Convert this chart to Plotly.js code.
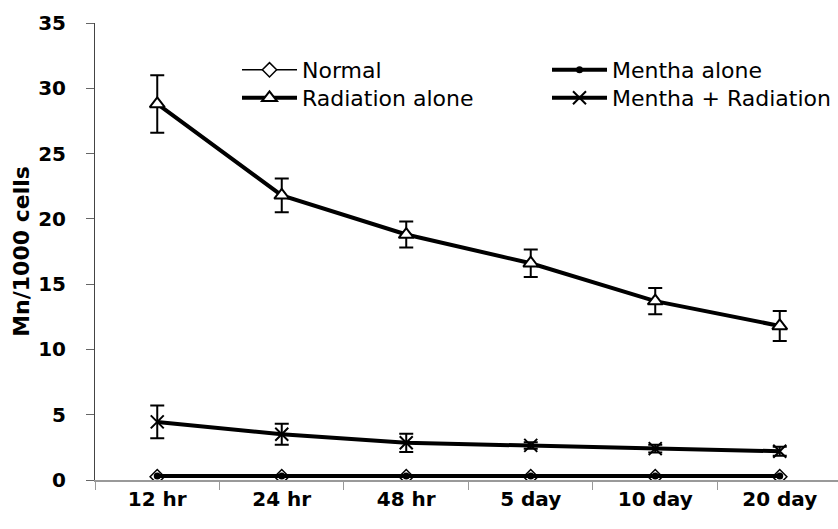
<!DOCTYPE html>
<html>
<head>
<meta charset="utf-8">
<script src="https://cdn.plot.ly/plotly-3.0.1.min.js"></script>
<style>
html,body{margin:0;padding:0;background:#fff;}
#chart{width:838px;height:529px;}
</style>
</head>
<body>
<div id="chart"></div>
<script>
const categories = ["12 hr", "24 hr", "48 hr", "5 day", "10 day", "20 day"];
const normal = [0.25, 0.25, 0.25, 0.25, 0.25, 0.25];
const menthaAlone = [0.3, 0.3, 0.3, 0.3, 0.3, 0.3];
const radiationAlone = [28.8, 21.8, 18.8, 16.6, 13.7, 11.8];
const radiationErr = [2.2, 1.3, 1.0, 1.05, 1.0, 1.15];
const menthaRadiation = [4.45, 3.5, 2.85, 2.65, 2.4, 2.2];
const menthaRadiationErr = [1.25, 0.8, 0.7, 0.25, 0.3, 0.35];
const yTicks = [0, 5, 10, 15, 20, 25, 30, 35];

const FONT = "DejaVu Sans, Arial, sans-serif";

const traces = [
  {
    name: "Normal", x: categories, y: normal, type: "scatter", mode: "lines+markers",
    legend: "legend",
    line: {color: "#000", width: 1.5},
    marker: {symbol: "diamond", size: 11, color: "#fff", line: {color: "#000", width: 1.5}}
  },
  {
    name: "Mentha alone", x: categories, y: menthaAlone, type: "scatter", mode: "lines+markers",
    legend: "legend2",
    line: {color: "#000", width: 4},
    marker: {symbol: "circle", size: 7, color: "#000"}
  },
  {
    name: "Radiation alone", x: categories, y: radiationAlone, type: "scatter", mode: "lines+markers",
    legend: "legend3",
    line: {color: "#000", width: 4},
    marker: {symbol: "triangle-up", size: 13, color: "#fff", line: {color: "#000", width: 2}},
    error_y: {type: "data", array: radiationErr, visible: true, color: "#000", thickness: 2, width: 7}
  },
  {
    name: "Mentha + Radiation", x: categories, y: menthaRadiation, type: "scatter", mode: "lines+markers",
    legend: "legend4",
    line: {color: "#000", width: 4},
    marker: {symbol: "x-thin", size: 13, color: "#000", line: {color: "#000", width: 2}},
    error_y: {type: "data", array: menthaRadiationErr, visible: true, color: "#000", thickness: 2, width: 7}
  }
];

const plotL = 95, plotR = 838, plotT = 23, plotB = 480;
const px2x = p => (p - plotL) / (plotR - plotL);
const py2y = p => (plotB - p) / (plotB - plotT);

const legendCommon = {
  orientation: "v", xanchor: "left", yanchor: "top",
  itemwidth: 55, tracegroupgap: 0, traceorder: "normal",
  bgcolor: "rgba(0,0,0,0)", borderwidth: 0,
  font: {family: FONT, size: 22, color: "#000"}
};

const layout = {
  width: 838, height: 529,
  margin: {l: plotL, r: 838 - plotR, t: plotT, b: 529 - plotB, pad: 0},
  paper_bgcolor: "#fff", plot_bgcolor: "#fff",
  font: {family: FONT, color: "#000", size: 20},
  showlegend: true,
  legend: Object.assign({}, legendCommon, {x: px2x(237), y: py2y(49)}),
  legend2: Object.assign({}, legendCommon, {x: px2x(547), y: py2y(49)}),
  legend3: Object.assign({}, legendCommon, {x: px2x(237), y: py2y(77)}),
  legend4: Object.assign({}, legendCommon, {x: px2x(547), y: py2y(77)}),
  xaxis: {
    type: "category", range: [-0.5, 5.468], tickson: "boundaries",
    ticks: "outside", ticklen: 8, tickcolor: "#999", tickwidth: 1,
    showline: true, linecolor: "#999", linewidth: 1.5,
    showgrid: false, zeroline: false, fixedrange: true,
    tickfont: {family: FONT, size: 20, color: "#000", weight: "bold"}
  },
  yaxis: {
    range: [0, 35], tickvals: yTicks, ticktext: yTicks.map(String),
    ticks: "outside", ticklen: 8, tickcolor: "#666", tickwidth: 1,
    ticklabelstandoff: 16,
    showline: true, linecolor: "#444", linewidth: 1,
    showgrid: false, zeroline: false, fixedrange: true,
    tickfont: {family: FONT, size: 20, color: "#000", weight: "bold"},
    title: {text: "Mn/1000 cells", font: {family: FONT, size: 22, color: "#000", weight: "bold"}, standoff: 2}
  }
};

Plotly.newPlot("chart", traces, layout, {displayModeBar: false, staticPlot: true});
</script>
</body>
</html>
